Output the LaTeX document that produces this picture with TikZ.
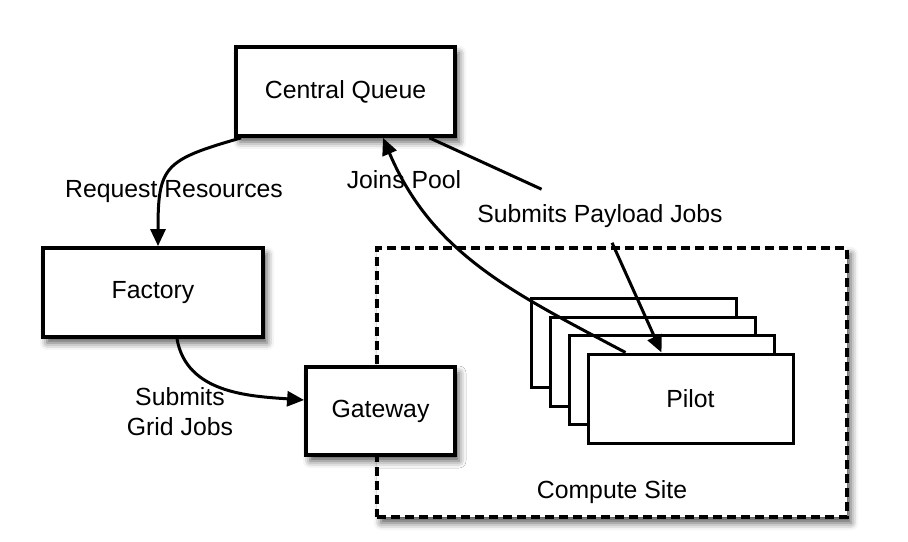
\documentclass[tikz,border=0pt]{standalone}
\usepackage{fontspec}
\setmainfont{Liberation Sans}
\usetikzlibrary{positioning}
\usetikzlibrary{calc}
\usetikzlibrary{arrows.meta,shadows.blur}

\begin{document}
\begin{tikzpicture}[
    x=0.5pt, y=0.5pt,
    every node/.style={font=\fontsize{12.4}{15}\selectfont},
    shade/.style={blur shadow={shadow xshift=2pt, shadow yshift=-3pt, shadow blur radius=3.5pt, shadow opacity=65}},
    box/.style={draw=black, line width=1.9pt, fill=white, inner sep=0pt, shade},
    pilotbox/.style={draw=black, line width=1.5pt, fill=white, inner sep=0pt, minimum width=102.5pt, minimum height=44.5pt},
    sitebox/.style={draw=black, line width=1.9pt, dash pattern=on 4.5pt off 2.5pt, fill=white, inner sep=0pt, minimum width=235pt, minimum height=134.5pt, shade},
    flow/.style={line width=1.5pt, -{Triangle[length=8.5pt,width=7.5pt]}},
  ]
  \useasboundingbox (0,0) rectangle (908,541);

  % site frame behind everything
  \node [sitebox] (site) at (612,158.5) {};
  \node (sitelbl) at (612,49) {Compute Site};

  \node [box, minimum width=109.5pt, minimum height=44.5pt] (queue) at (345.5,449.5) {Central Queue};
  \node [box, minimum width=110pt, minimum height=44.5pt] (factory) at (153,248.5) {Factory};
  \node [box, minimum width=74.5pt, minimum height=44pt] (gateway) at (380.5,130) {Gateway};

  % stack of pilots, back to front
  \node [pilotbox] (pilot3) at (633.5,198) {};
  \node [pilotbox] (pilot2) at (652.5,179.5) {};
  \node [pilotbox] (pilot1) at (671.5,161) {};
  \node [pilotbox] (pilot0) at (690.5,142.5) {Pilot};

  \node (reqlbl) at (174,349) {Request Resources};
  \node (joinlbl) at (404,361) {Joins Pool};
  \node [inner xsep=2pt, inner ysep=7.4pt] (paylbl) at (600,325) {Submits Payload Jobs};
  \node [align=center] (gridlbl) at (180,129) {Submits\\Grid Jobs};

  \draw [flow] ([xshift=3.5pt]queue.south west) to[out=196,in=90,looseness=1.5] ([xshift=2.5pt]factory.north);
  \draw [flow] ([xshift=12pt]factory.south) to[out=-80,in=176] ([yshift=5.5pt]gateway.west);
  \draw [flow] ([xshift=19.5pt]pilot0.north west) to[out=152,in=-67] ([xshift=18.75pt]queue.south);
  \draw [line width=1.5pt] ([xshift=42pt]queue.south) -- (paylbl);
  \draw [flow] (paylbl) -- ([xshift=37.5pt]pilot0.north west);

\end{tikzpicture}
\end{document}
